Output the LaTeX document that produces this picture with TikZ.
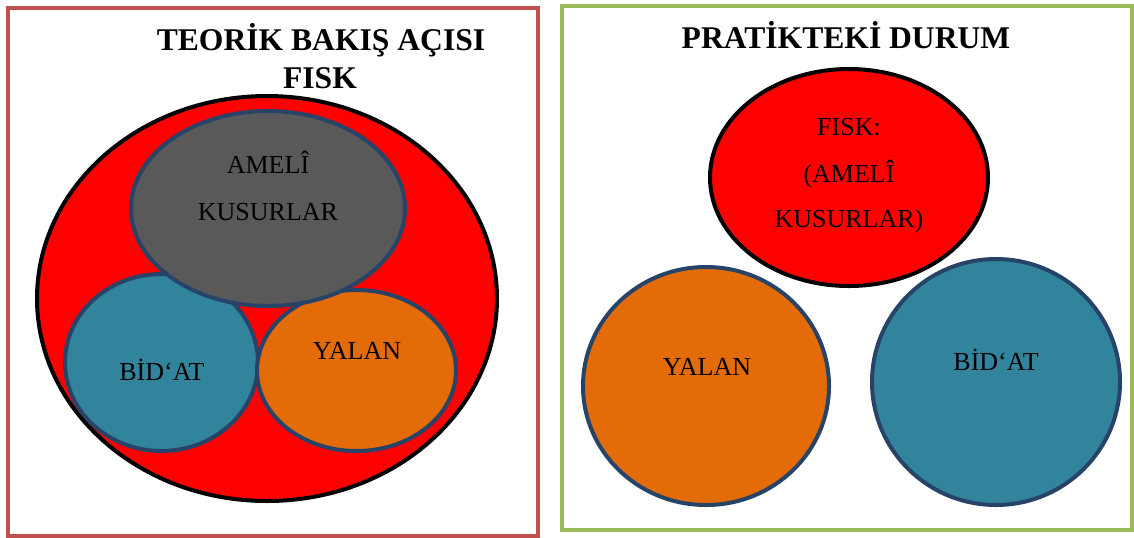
\documentclass[tikz,border=0pt]{standalone}
\usepackage{fontspec}
\setmainfont{Liberation Serif}
\usetikzlibrary{shapes.geometric}
\definecolor{framered}{HTML}{C0504D}
\definecolor{framegreen}{HTML}{9BBB59}
\definecolor{fiskred}{HTML}{FF0000}
\definecolor{amelgray}{HTML}{595959}
\definecolor{bidteal}{HTML}{31849B}
\definecolor{yalanorange}{HTML}{E36C09}
\definecolor{edgeblue}{HTML}{274468}
\tikzset{
  frame/.style={line width=3pt},
  blob/.style={ellipse, inner sep=0pt, line width=3pt, draw=edgeblue},
  title/.style={anchor=base, inner sep=0pt, font=\fontsize{23.7}{28}\selectfont\bfseries},
  lbl/.style={anchor=base, inner sep=0pt, font=\fontsize{19.5}{23}\selectfont},
}
\begin{document}
\begin{tikzpicture}[x=0.75pt, y=-0.75pt]
\useasboundingbox (0,0) rectangle (1134,537);
% frames
\draw[frame, draw=framered] (7.5,7.5) rectangle (537.5,535.5);
\draw[frame, draw=framegreen] (561.5,6) rectangle (1131.5,529.5);
% titles
\node[title] (t1) at (321,50) {TEORİK BAKIŞ AÇISI};
\node[title] (t2) at (320,88) {FISK};
\node[title] (t3) at (846,48) {PRATİKTEKİ DURUM};
% left diagram
\node[blob, draw=black, fill=fiskred, minimum width=345pt, minimum height=303.75pt] (big) at (267,298.5) {};
\node[blob, fill=bidteal, minimum width=144.75pt, minimum height=132.75pt] (bidL) at (161.5,362.5) {};
\node[blob, fill=yalanorange, minimum width=149.25pt, minimum height=120.75pt] (yalL) at (356.5,370.5) {};
\node[blob, fill=amelgray, minimum width=205.5pt, minimum height=146.25pt] (amel) at (268,208.5) {};
\node[lbl] (amel1) at (268,173) {AMELÎ};
\node[lbl] (amel2) at (268,220) {KUSURLAR};
\node[lbl] (bidLt) at (162,380) {BİD‘AT};
\node[lbl] (yalLt) at (357,359) {YALAN};
% right diagram
\node[blob, draw=black, fill=fiskred, minimum width=208.5pt, minimum height=162.75pt] (fiskR) at (849,177.5) {};
\node[lbl] (f1) at (849,135) {FISK:};
\node[lbl] (f2) at (849,182) {(AMELÎ};
\node[lbl] (f3) at (849,227) {KUSURLAR)};
\node[blob, fill=yalanorange, minimum width=184.5pt, minimum height=178.5pt] (yalR) at (706,386) {};
\node[lbl] (yalRt) at (707,375) {YALAN};
\node[blob, fill=bidteal, minimum width=186pt, minimum height=184.5pt] (bidR) at (996,382) {};
\node[lbl] (bidRt) at (996,370) {BİD‘AT};
\end{tikzpicture}
\end{document}
